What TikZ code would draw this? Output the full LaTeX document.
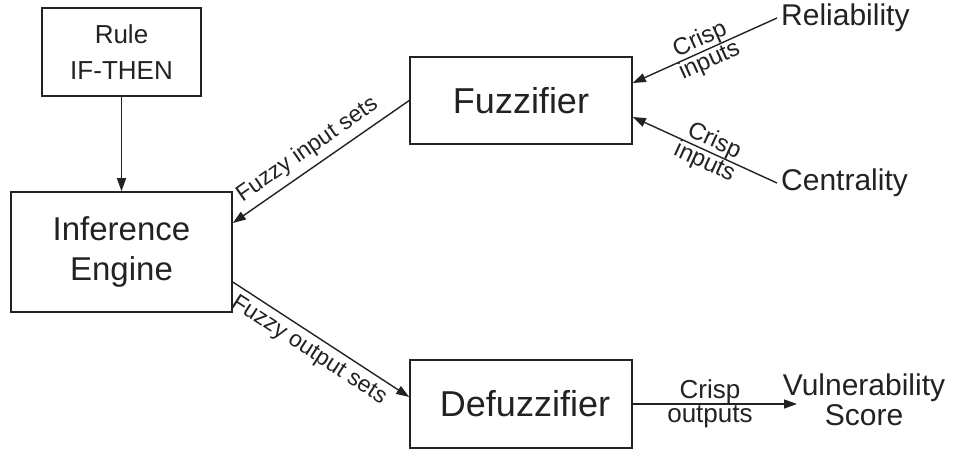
\documentclass[tikz,border=0pt]{standalone}
\usepackage{fontspec}
\setmainfont{Liberation Sans}
\usetikzlibrary{arrows.meta,calc}
\definecolor{ink}{HTML}{222222}
\begin{document}
\begin{tikzpicture}[x=1pt,y=-1pt,
  every node/.style={text=ink},
  box/.style={draw=ink,line width=1.6pt,rectangle,inner sep=0pt,align=center},
  arr/.style={draw=ink,line width=1.4pt,-{Triangle[length=13pt,width=9pt]}},
  lbl/.style={font=\fontsize{24}{22}\selectfont,align=center,inner sep=4pt},
  endtxt/.style={font=\fontsize{30}{30}\selectfont,inner sep=0pt,align=center}]
\useasboundingbox (0,0) rectangle (954,450);
% boxes
\node[box,minimum width=159pt,minimum height=88pt,font=\fontsize{26}{36}\selectfont] (rule) at (121.5,52) {Rule\\IF-THEN};
\node[box,minimum width=221pt,minimum height=120pt,font=\fontsize{33}{40}\selectfont] (inf) at (121.5,252) {Inference\\Engine};
\node[box,minimum width=222pt,minimum height=87pt,font=\fontsize{36}{40}\selectfont] (fuz) at (521,100.5) {Fuzzifier};
\node[box,minimum width=222pt,minimum height=88pt,font=\fontsize{36}{40}\selectfont] (defuz) at (521,404) {\hspace*{8pt}Defuzzifier};
% end texts
\node[endtxt,anchor=west] (rel) at (781,18) {Reliability};
\node[endtxt,anchor=west] (cen) at (781,183) {Centrality};
\node[endtxt] (vuln) at (864,400) {Vulnerability\\Score};
\coordinate (vtip) at (797,400);
% connectors
\draw[arr] (rule) -- (inf);
\draw[arr] (fuz.west) -- node[lbl,sloped,above,pos=0.52,inner sep=6pt,font=\fontsize{23}{22}\selectfont] {Fuzzy input sets} ([yshift=29pt]inf.east);
\draw[arr] ([yshift=-30pt]inf.east) -- node[lbl,sloped,below,pos=0.48,inner sep=5pt,font=\fontsize{23}{22}\selectfont] {Fuzzy output sets} ([yshift=7pt]defuz.west);
\draw[arr] ([xshift=-4pt]rel.west) -- node[lbl,sloped,pos=0.5,inner sep=0pt] {Crisp\\inputs} ([yshift=17.5pt]fuz.east);
\draw[arr] ([xshift=-4pt]cen.west) -- node[lbl,sloped,pos=0.47,inner sep=0pt] {Crisp\\inputs} ([yshift=-16.5pt]fuz.east);
\draw[arr] (defuz.east) -- node[lbl,pos=0.47,inner sep=0pt,font=\fontsize{26}{24}\selectfont] {Crisp\\outputs} (vtip |- defuz.east);
\end{tikzpicture}
\end{document}
